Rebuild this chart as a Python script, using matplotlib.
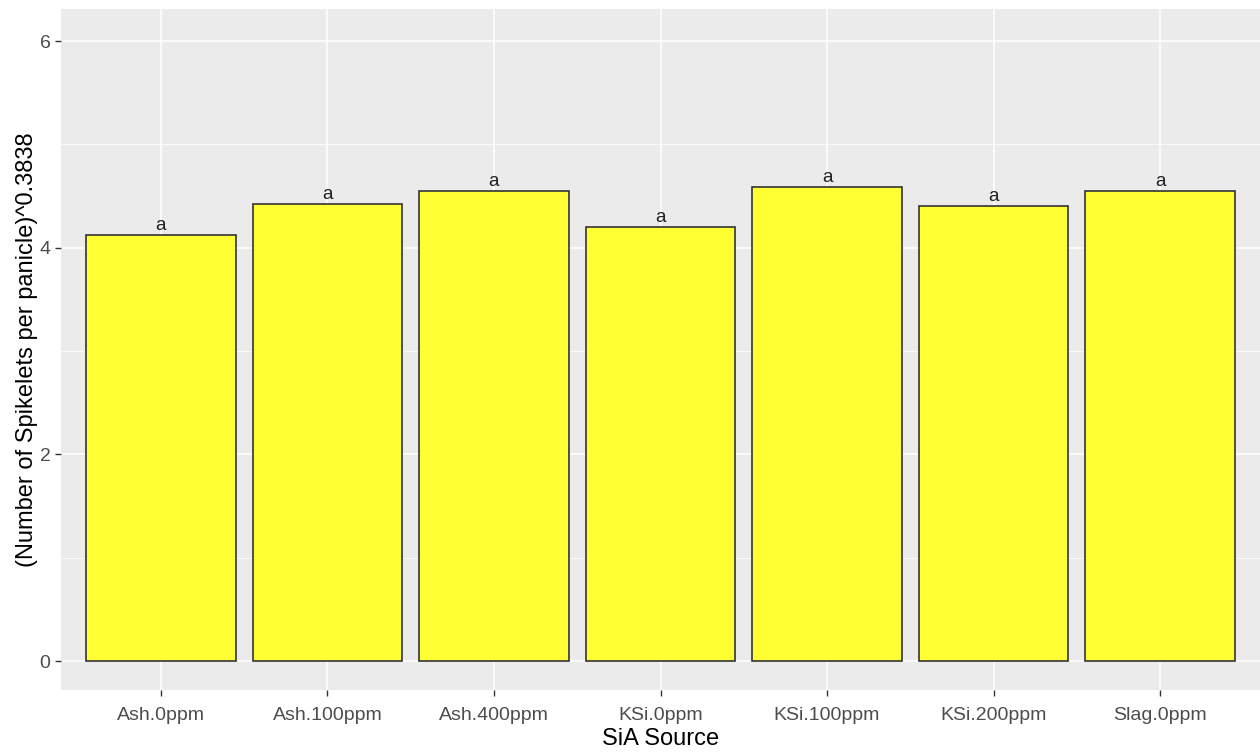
import matplotlib
matplotlib.use("Agg")
import matplotlib.pyplot as plt
from matplotlib.ticker import MultipleLocator

categories = ["Ash.0ppm", "Ash.100ppm", "Ash.400ppm", "KSi.0ppm",
              "KSi.100ppm", "KSi.200ppm", "Slag.0ppm"]
values = [4.12, 4.42, 4.55, 4.20, 4.59, 4.40, 4.55]
letters = ["a", "a", "a", "a", "a", "a", "a"]

BG = "#ebebeb"
TICK = "#4d4d4d"

plt.rcParams["font.family"] = ["Liberation Sans", "DejaVu Sans"]

fig = plt.figure(figsize=(12.6, 7.52), dpi=100)
ax = fig.add_axes([61 / 1260, 62 / 752, 1199 / 1260, 681 / 752])
ax.set_facecolor(BG)

x = list(range(1, len(categories) + 1))
ax.bar(x, values, width=0.9, color="#ffff33", edgecolor="#333333",
       linewidth=1.2, zorder=3)
for xi, v, lab in zip(x, values, letters):
    ax.text(xi, v + 0.01, lab, ha="center", va="bottom", fontsize=13.5,
            color="#222222", zorder=4)

ax.set_xlim(0.4, 7.6)
ax.set_ylim(-0.28, 6.31)
ax.set_xticks(x, labels=categories)
ax.yaxis.set_major_locator(MultipleLocator(2))
ax.yaxis.set_minor_locator(MultipleLocator(1))
ax.grid(which="major", color="white", linewidth=1.1, zorder=0)
ax.grid(which="minor", axis="y", color="white", linewidth=0.55, zorder=0)
ax.set_axisbelow(True)
for s in ax.spines.values():
    s.set_visible(False)
ax.tick_params(which="major", colors="#333333", labelcolor=TICK,
               labelsize=14, length=4, width=1)
ax.tick_params(axis="x", pad=8)
ax.tick_params(which="minor", length=0)

ax.set_xlabel("SiA Source", fontsize=17, color="black", labelpad=3)
ax.set_ylabel("(Number of Spikelets per panicle)^0.3838", fontsize=17,
              color="black", labelpad=1)

fig.savefig("out.png", dpi=100)
